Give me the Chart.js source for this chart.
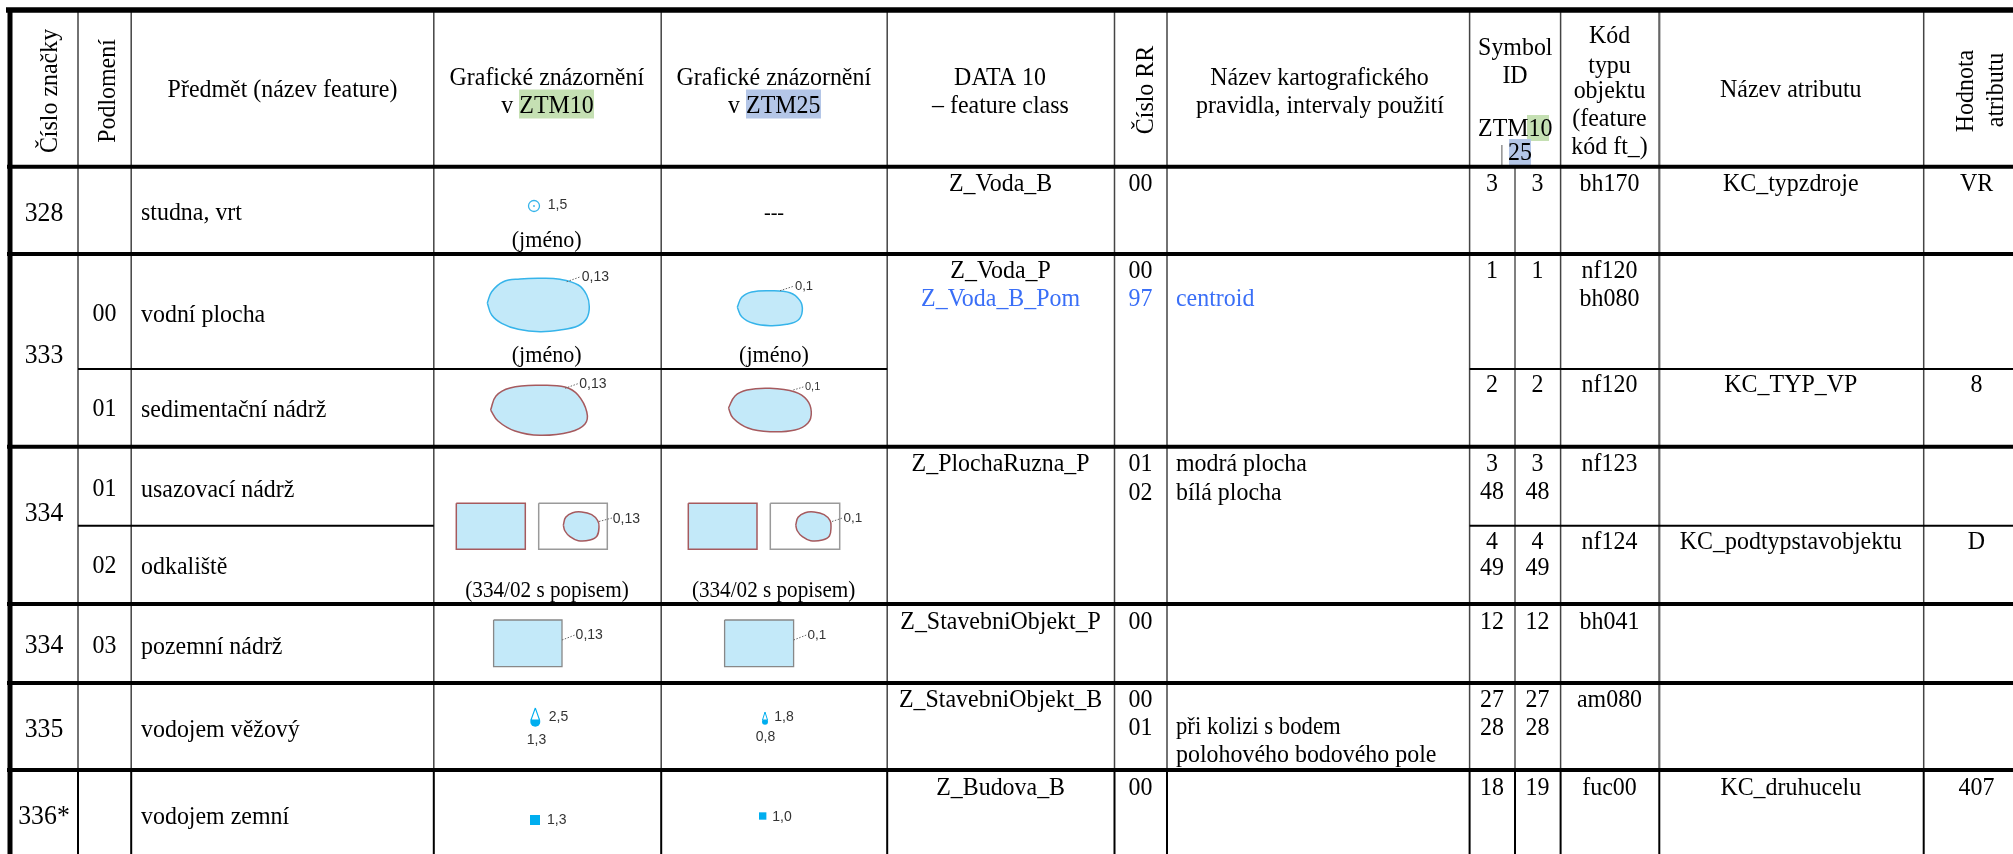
<!DOCTYPE html>
<html lang="cs"><head><meta charset="utf-8"><title>Tabulka značek</title>
<style>html,body{margin:0;padding:0;background:#fff;overflow:hidden}canvas{display:block;filter:blur(.35px)}</style>
<script src="https://cdn.jsdelivr.net/npm/chart.js@4/dist/chart.umd.min.js"></script>
</head><body><canvas id="c" width="2013" height="854"></canvas>
<script>
// ---------- table content ----------
const signNumbers = ['328','333','334','334','335','336*'];
const subdivisions = ['00','01','01','02','03'];
const subjects = ['studna, vrt','vodní plocha','sedimentační nádrž','usazovací nádrž','odkaliště','pozemní nádrž','vodojem věžový','vodojem zemní'];
const featureClasses = ['Z_Voda_B','Z_Voda_P','Z_Voda_B_Pom','Z_PlochaRuzna_P','Z_StavebniObjekt_P','Z_StavebniObjekt_B','Z_Budova_B'];
const ruleNumbers = ['00','00','97','01','02','00','00','01','00'];
const ruleNames = ['centroid','modrá plocha','bílá plocha','při kolizi s bodem','polohového bodového pole'];
const symbolIdsZtm10 = ['3','1','2','3','48','4','49','12','27','28','18'];
const symbolIdsZtm25 = ['3','1','2','3','48','4','49','12','27','28','19'];
const typeCodes = ['bh170','nf120','bh080','nf120','nf123','nf124','bh041','am080','fuc00'];
const attributeNames = ['KC_typzdroje','KC_TYP_VP','KC_podtypstavobjektu','KC_druhucelu'];
const attributeValues = ['VR','8','D','407'];
const sizeLabels = ['1,5','0,13','0,1','0,13','0,1','0,13','0,1','0,13','0,1','2,5','1,3','1,8','0,8','1,3','1,0'];
const captions = ['(jméno)','---','(jméno)','(jméno)','(334/02 s popisem)','(334/02 s popisem)'];

// ---------- table layout, in the chart's own axis units ----------
const AXIS_W = 2013, AXIS_H = 854;
const colEdges = [78,131.2,433.8,661.2,887.2,1114.5,1167,1469.6,1515,1560.6,1659.3,1923.7];
const rowEdges = [10,166.7,254,369,446.7,525.7,604,683,770];
const xSign=44, xSub=104.5, xSubj=141, xFeat=1000.6, xRuleNo=1140.5, xRule=1176, xId1=1492, xId2=1537.4, xType=1609.5, xAttr=1790.8, xVal=1976.5;
const Y = {
  sign:[213,354.5,513,645,728.5,816], sub:[313,408.5,488.5,565.5,645],
  subj:[212,314,409,489,566,646,729,816], feat:[183,270,298,463,621,699,787],
  ruleNo:[183,270,298,463,492,621,699,727,787], rule:[298,463,492,727,754],
  ids:[183,270,384,463,491,541,567.5,621,699,727.5,787],
  type:[183,270,298,384,463,541,621,699,787], attr:[183,384,541,787]
};
const sizeLabelPos = [[547.7,205.3],[581.7,277.3],[795,286.7],[579.3,384],[805,387.3],[612.7,519],[843.4,518],[575.6,635],[807.4,635],[548.7,717.3],[526.7,740.3],[774.3,717.3],[755.7,736.7],[547,820],[772.3,817]];
const sizeLabelFont = [14,14,13,14,11,14,13.5,14,13.5,14,14,14,14,14,14];
const captionPos = [[546.7,239.5],[774,212],[546.7,355],[774,355],[547,590],[773.6,590]];
const captionSize = [24,22,24,24,23,23];

const pondOuter10 = [[487.3,303],[491.7,291.7],[503.3,281.7],[520,279],[540,278.3],[560,279.3],[578.3,285],[586.7,295],[589.3,306.7],[586.7,318.3],[578.3,325.7],[560,330],[540,331.7],[518.3,329.3],[501.7,323.3],[491.7,315]];
const pondOuter25 = [[737.3,307.3],[741.7,297.3],[751.7,292],[770,290.7],[790,292.7],[800,300.7],[802.3,310.7],[798.3,320],[786.7,324.3],[770,325.7],[753.3,323.3],[741.7,316.7]];
const pondSed10 = [[490.6,410],[496,396],[510,388],[540,385.3],[565,387],[578,395],[586.8,412],[585,424],[570,432],[540,435.3],[515,431],[498,421]];
const pondSed25 = [[728.5,408],[735,396],[747,390],[770,388.3],[795,392],[807,400],[811.3,412],[808,423],[795,430],[770,431.7],[748,428],[733,418]];
const pondSmall10 = [[563.3,525],[565.7,517.3],[572.7,512.7],[581.7,512],[591.7,514.7],[597.7,520.7],[599,526.7],[597,536],[590,540],[578.3,540.7],[570,536.7],[565,531]];
const pondSmall25 = [[795.7,525],[798.1,517.3],[805.1,512.7],[814.1,512],[824.1,514.7],[830.1,520.7],[831,526.7],[829.4,536],[822.4,540],[810.7,540.7],[802.4,536.7],[797.4,531]];
const BLUE='#36b4ea', BROWN='#a65a5e', POND='#c3e9f9', GREY='#9a9a9a', CYAN='#00aeef';

// ---------- dataset builders ----------
const pts = a => a.map(p => ({x:p[0],y:p[1]}));
const datasets = [];
const line = (x1,y1,x2,y2,color,width,dash) => datasets.push({data:pts([[x1,y1],[x2,y2]]),showLine:true,pointRadius:0,borderColor:color,borderWidth:width,borderDash:dash||[],fill:false,borderCapStyle:'butt'});
const shape = (a,fill,stroke,width,tension) => datasets.push({data:pts(a.concat([a[0]])),showLine:true,pointRadius:0,backgroundColor:fill,borderColor:stroke,borderWidth:width,fill:'shape',tension:tension||0});
const box = (x1,y1,x2,y2,fill,stroke,width) => shape([[x1,y1],[x2,y1],[x2,y2],[x1,y2]],fill,stroke,width);
const marker = (x,y,style,r,fill,stroke,bw) => datasets.push({data:[{x,y}],showLine:false,pointStyle:style,pointRadius:r,backgroundColor:fill,borderColor:stroke,pointBorderWidth:bw,borderWidth:bw});

// header highlights
box(519,89.5,594,118.5,'#c5e0b3','#c5e0b3',0);
box(746,89.5,821,118.5,'#b4c6e7','#b4c6e7',0);
box(1527,115,1549,141,'#c5e0b3','#c5e0b3',0);
box(1509,139,1531,165,'#b4c6e7','#b4c6e7',0);

// verticals
colEdges.forEach(x => {
  if (x === 1515) line(x,167,x,770,'#555',1.5);
  else if (x === 1659.3) line(x,10,x,770,'#666',2.2);
  else line(x,10,x,770,'#444',1.5);
  line(x,770,x,854,'#000',2);
});
line(1501.8,145,1501.8,165,'#999',1);
// horizontals
line(6,rowEdges[0],AXIS_W,rowEdges[0],'#000',5.5);
[1,2,4,6,7,8].forEach(i => line(7,rowEdges[i],AXIS_W,rowEdges[i],'#000',4));
line(78,rowEdges[3],887.2,rowEdges[3],'#000',2); line(1469.6,rowEdges[3],AXIS_W,rowEdges[3],'#000',2);
line(78,rowEdges[5],433.8,rowEdges[5],'#000',2); line(1469.6,rowEdges[5],AXIS_W,rowEdges[5],'#000',2);
line(10,8,10,854,'#000',5);

// map symbols
marker(534,206,'circle',5.5,'#fff',BLUE,1.3); marker(534,206,'circle',0.9,BLUE,BLUE,0);
shape(pondOuter10,POND,BLUE,1.5,0.4); shape(pondOuter25,POND,BLUE,1.5,0.4);
shape(pondSed10,POND,BROWN,1.5,0.4); shape(pondSed25,POND,BROWN,1.5,0.4);
box(456.3,503.3,525.3,549.3,POND,BROWN,1.5); box(538.7,503.3,607.3,549.3,'#fff',GREY,1.5);
shape(pondSmall10,POND,BROWN,1.5,0.4);
box(688.3,503.3,757,549.3,POND,BROWN,1.5); box(770.3,503.3,839.7,549.3,'#fff',GREY,1.5);
shape(pondSmall25,POND,BROWN,1.5,0.4);
box(493.6,620,562,666.7,POND,'#888',1.3); box(724.6,620,793.6,666.7,POND,'#888',1.3);
marker(535.3,721.7,'circle',5,CYAN,CYAN,0); shape([[535.3,708],[539.5,720],[531,720]],'#fff',CYAN,1.1);
marker(765,721.7,'circle',3,CYAN,CYAN,0); shape([[765,712],[767.5,720],[762.5,720]],'#fff',CYAN,1);
marker(535,820,'rect',7.1,CYAN,CYAN,0); marker(762.7,816,'rect',5.2,CYAN,CYAN,0);
// dotted leaders
[[566.7,281.7,580.7,276.7],[780,290.7,794.3,286],[565,388.3,579,383.3],[793.3,390,804.3,386.7],[599,521.5,612,518],[832,521.5,842.5,518],[562,640,575,635],[793.6,640,806.5,635]]
  .forEach(l => line(l[0],l[1],l[2],l[3],'#666',1,[1.5,1.5]));
// later entries paint on top
datasets.forEach((d,i) => { d.order = -i; });

// ---------- text plugin ----------
const SERIF = '"Liberation Serif","Times New Roman",serif';
const SANS = '"Liberation Sans",Arial,sans-serif';
const texts = [];
const T = (s,x,y,o) => texts.push(Object.assign({s,x,y},o||{}));
const col = (arr,x,ys,o) => arr.forEach((s,i) => T(s,x,ys[i],o));
const L = {align:'left'};
const BLUE_TEXT = '#3a6ff7';

// header
T('Číslo značky',50,90,{rot:true}); T('Podlomení',108,90,{rot:true}); T('Číslo RR',1146,89,{rot:true});
T('Hodnota',1966.6,90,{rot:true}); T('atributu',1996.6,89,{rot:true});
T('Předmět (název feature)',282.5,89);
T('Grafické znázornění',546.8,77.5); T('v ZTM10',547.5,105);
T('Grafické znázornění',773.8,77.5); T('v ZTM25',774.3,105);
T('DATA 10',1000,77.5); T('– feature class',1000.4,105);
T('Název kartografického',1319.5,77.5); T('pravidla, intervaly použití',1320,105);
T('Symbol',1515.3,46.7); T('ID',1515,75); T('ZTM10',1515.3,128); T('25',1520,152);
['Kód','typu','objektu','(feature','kód ft_)'].forEach((s,i) => T(s,1609.5,[35,65,90,118,146][i]));
T('Název atributu',1790.8,89);
// body
col(signNumbers,xSign,Y.sign,{size:28}); col(subdivisions,xSub,Y.sub); col(subjects,xSubj,Y.subj,L);
featureClasses.forEach((s,i) => T(s,xFeat,Y.feat[i],s==='Z_Voda_B_Pom'?{color:BLUE_TEXT}:{}));
ruleNumbers.forEach((s,i) => T(s,xRuleNo,Y.ruleNo[i],s==='97'?{color:BLUE_TEXT}:{}));
ruleNames.forEach((s,i) => T(s,xRule,Y.rule[i],s==='centroid'?{align:'left',color:BLUE_TEXT}:(s==='při kolizi s bodem'?{align:'left',size:24.7}:L)));
col(symbolIdsZtm10,xId1,Y.ids); col(symbolIdsZtm25,xId2,Y.ids);
col(typeCodes,xType,Y.type); col(attributeNames,xAttr,Y.attr); col(attributeValues,xVal,Y.attr);
captions.forEach((s,i) => T(s,captionPos[i][0],captionPos[i][1],{size:captionSize[i]}));
sizeLabels.forEach((s,i) => T(s,sizeLabelPos[i][0],sizeLabelPos[i][1],{align:'left',sans:true,size:sizeLabelFont[i],color:'#333'}));

const SIZE=26, SQUEEZE=0.92, DY=1;
const textPlugin = {id:'tableText',afterDatasetsDraw(chart){
  const {ctx,scales:{x:sx,y:sy}} = chart;
  ctx.save(); ctx.textBaseline='middle';
  texts.forEach(t => {
    const px=sx.getPixelForValue(t.x), py=sy.getPixelForValue(t.y);
    ctx.save(); ctx.fillStyle=t.color||'#000';
    ctx.font=(t.size||SIZE)+'px '+(t.sans?SANS:SERIF);
    ctx.textAlign=t.align||'center';
    ctx.translate(px,py+(t.sans?0:DY));
    if(t.rot){ctx.rotate(-Math.PI/2);}
    if(!t.sans){ctx.scale(SQUEEZE,1);}
    ctx.fillText(t.s,0,0); ctx.restore();
  });
  ctx.restore();
}};

new Chart(document.getElementById('c'),{
  type:'scatter',
  data:{datasets},
  plugins:[textPlugin],
  options:{responsive:false,animation:false,clip:false,layout:{padding:0,autoPadding:false},
    plugins:{legend:{display:false},tooltip:{enabled:false},title:{display:false}},
    elements:{point:{hoverRadius:0}},
    scales:{
      x:{type:'linear',min:0,max:AXIS_W,display:false},
      y:{type:'linear',min:0,max:AXIS_H,reverse:true,display:false}
    }}
});
</script></body></html>
